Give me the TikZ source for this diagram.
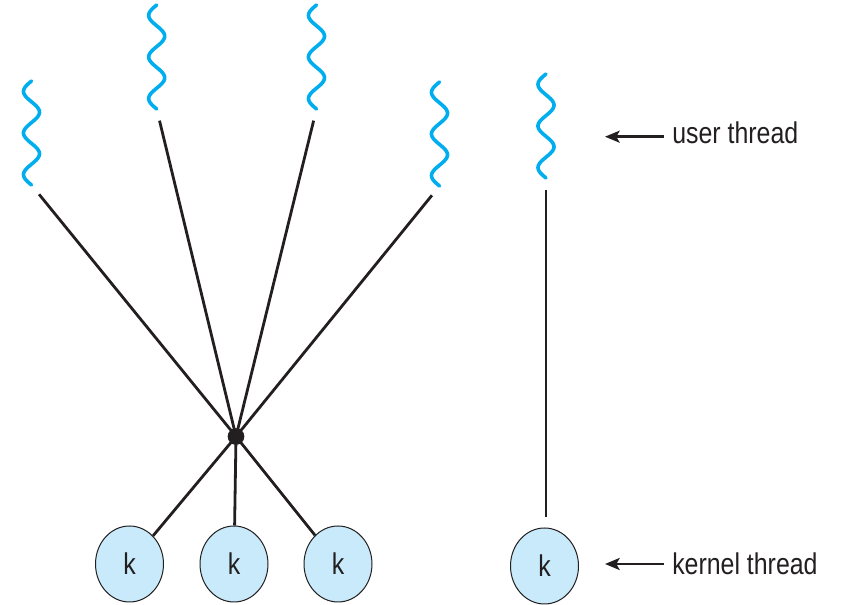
\documentclass[tikz,border=0pt]{standalone}
\usepackage{fontspec}
\setmainfont[FakeStretch=0.83]{Liberation Sans}
\usetikzlibrary{arrows.meta,shapes.geometric}
\definecolor{wavecyan}{RGB}{0,174,239}
\definecolor{kfill}{RGB}{200,234,250}
\definecolor{ink}{RGB}{35,31,32}
\begin{document}
\begin{tikzpicture}[x=0.75pt,y=-0.75pt,
  wave/.style={draw=wavecyan,line width=2.7pt,line cap=round},
  link/.style={draw=ink,line width=2.1pt},
  knode/.style={ellipse,draw=ink,line width=0.75pt,fill=kfill,text=ink,minimum width=51pt,minimum height=57pt,inner sep=0pt,font=\fontsize{22.5}{26}\selectfont},
  lbl/.style={anchor=base west,inner sep=0pt,text=ink,font=\fontsize{22.5}{26}\selectfont},
  arr/.style={draw=ink,line width=1.8pt,-{Stealth[length=11pt,width=9pt,inset=2.5pt]}}
]
\useasboundingbox (0,0) rectangle (843,605);

% user threads (wavy lines)
\foreach \cx/\ty/\n in {31.5/81/1,156.7/5/2,316.5/5/3,439.5/82/4,546/74/5}{
  \draw[wave] plot[domain=0:104,samples=90,smooth,variable=\s] ({\cx-8*sin(8.654*\s)},{\ty+\s});
  \coordinate (u\n) at (\cx,\ty+104);
}

% hub
\node[circle,fill=ink,inner sep=0pt,minimum size=12.5pt] (hub) at (236,436.5) {};

% kernel threads
\node[knode] (k1) at (129.5,564) {k};
\node[knode] (k2) at (234,564) {k};
\node[knode] (k3) at (338,564) {k};
\node[knode] (k4) at (544.5,566) {k};

% links
\foreach \n in {1,2,3,4}{
  \draw[link,shorten <=9pt] (u\n) -- (hub.center);
}
\foreach \n in {1,2,3}{
  \draw[link] (hub.center) -- (k\n);
}
\draw[link,shorten <=9pt,shorten >=7.5pt] (u5) -- (u5 |- k4.north);

% labels
\node[lbl] (ut) at (672,143.3) {user thread};
\node[lbl] (kt) at (672,575) {kernel thread};
\coordinate (ua) at (605,136.7);
\coordinate (ka) at (605,564);
\draw[arr] ([xshift=-6.3pt]ut.base west |- ua) -- (ua);
\draw[arr] ([xshift=-6.3pt]kt.base west |- ka) -- (ka);
\end{tikzpicture}
\end{document}
